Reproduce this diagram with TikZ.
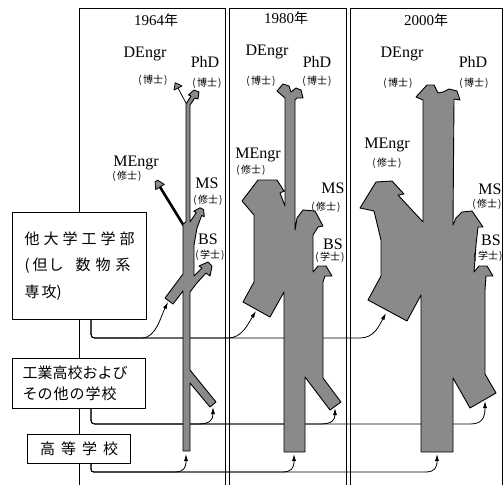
\documentclass[tikz,border=0pt]{standalone}
\usepackage{fontspec}
\setmainfont{Liberation Serif}
\newfontfamily\cjk{Noto Sans CJK JP}
\usetikzlibrary{arrows.meta,calc}
\newcommand{\gapx}{\hspace{4pt}}
\newcommand{\deglab}[1]{{\cjk\fontsize{10}{10}\selectfont(\hspace{1.2pt}#1\hspace{1.2pt})}}
\newcommand{\yrlab}[1]{#1{\cjk\fontsize{14}{14}\selectfont 年}}
\begin{document}
\begin{tikzpicture}[x=1pt,y=-1pt,
  frame/.style={line width=0.8pt},
  srcbox/.style={draw, line width=1.2pt, fill=white, inner sep=0pt},
  flow/.style={draw, line width=0.9pt, fill=black!46, line join=round},
  conn/.style={line width=0.8pt, -{Latex[length=7pt,width=4pt]}},
  lab/.style={inner sep=0pt, font=\fontsize{16}{16}\selectfont},
  sublab/.style={inner sep=0pt},
  yr/.style={inner sep=0pt, font=\fontsize{15}{15}\selectfont}]
\useasboundingbox (0,0) rectangle (504,485);

% panel frames
\draw[frame] (79,485) -- (79,8) -- (225,8) -- (225,485);
\draw[frame] (229,485) -- (229,8) -- (346,8) -- (346,485);
\draw[frame] (350,485) -- (350,8) -- (502,8) -- (502,485);

% source boxes
\node[srcbox, anchor=north west, minimum width=134pt, minimum height=107pt,
      text width=110pt, align=left, font=\cjk\fontsize{15}{26.5}\selectfont] (src1) at (12,212)
  {他\gapx 大\gapx 学\gapx 工\gapx 学\gapx 部\\(\hspace{3pt}但\hspace{1pt}し\hspace{12pt}数\hspace{5pt}物\hspace{5pt}系\\専\hspace{2pt}攻)};
\node[srcbox, anchor=north west, minimum width=133pt, minimum height=50pt,
      text width=113pt, align=left, font=\cjk\fontsize{15}{21}\selectfont] (src2) at (12,358)
  {工業高校および\\その\hspace{1pt}他\hspace{1pt}の\hspace{1pt}学\hspace{1pt}校};
\node[srcbox, anchor=north west, minimum width=103pt, minimum height=29pt,
      font=\cjk\fontsize{15}{15}\selectfont] (src3) at (27,434)
  {高\hspace{6pt}等\hspace{6pt}学\hspace{6pt}校};

% connector end points
\coordinate (s1) at ($(src1.south west)+(79,0)$);
\coordinate (s2) at ($(src2.south west)+(79,0)$);
\coordinate (s3) at ($(src3.south west)+(64,0)$);
\coordinate (t11) at (168,302);
\coordinate (t12) at (256,311);
\coordinate (t13) at (386,313);
\coordinate (t21) at (213,407);
\coordinate (t22) at (335,408);
\coordinate (t23) at (485,401);
\coordinate (t31) at (186,454);
\coordinate (t32) at (294,454);
\coordinate (t33) at (437,454);

% connectors
\draw[conn] (s1) -- (91,330) .. controls (91,338) .. (99,338) -- (142,338) .. controls (156,338) and (161,316) .. (t11);
\draw[conn] (s1) -- (91,330) .. controls (91,338) .. (99,338) -- (228,338) .. controls (242,338) and (248,324) .. (t12);
\draw[conn] (s1) -- (91,330) .. controls (91,338) .. (99,338) -- (360,338) .. controls (374,338) and (379,326) .. (t13);
\draw[conn] (s2) -- (91,416) .. controls (91,424) .. (99,424) -- (198,424) .. controls (210,424) and (213,420) .. (t21);
\draw[conn] (s2) -- (91,416) .. controls (91,424) .. (99,424) -- (320,424) .. controls (332,424) and (335,420) .. (t22);
\draw[conn] (s2) -- (91,416) .. controls (91,424) .. (99,424) -- (470,424) .. controls (482,424) and (485,418) .. (t23);
\draw[conn] (s3) -- (91,466) .. controls (91,472) .. (97,472) -- (174,472) .. controls (184,472) and (186,468) .. (t31);
\draw[conn] (s3) -- (91,466) .. controls (91,472) .. (97,472) -- (282,472) .. controls (292,472) and (294,468) .. (t32);
\draw[conn] (s3) -- (91,466) .. controls (91,472) .. (97,472) -- (425,472) .. controls (435,472) and (437,468) .. (t33);

% 1964 flow
\draw[line width=2.6pt] (184,226) -- (160,187);
\draw[line width=0.8pt] (186.5,104) -- (178,88);
\draw[flow] (183,451) -- (183,291) -- (173,304) -- (165,298) -- (183,274) -- (183,224) -- (186,222)
  -- (186,104) -- (191,96) -- (188.5,95) -- (194,90) -- (199,92) -- (198,99) -- (194.8,98) -- (190,105)
  -- (190,222) -- (196.3,212.6) -- (193.7,211.3) -- (199.9,207.8) -- (203.5,209.6) -- (204.3,216.7)
  -- (201.7,215.4) -- (197,228) -- (194,245) -- (194,276) -- (202,268) -- (199,266) -- (208,262)
  -- (212,266) -- (210,276) -- (206,273) -- (196,284) -- (190,292) -- (190,370) -- (216,402)
  -- (210,407) -- (190,383) -- (190,451) -- cycle;
\draw[flow, line width=0.8pt] (155.7,189.6) -- (155.1,181.8) -- (157.7,180.2) -- (164.3,184.4) -- cycle;
\draw[flow, line width=0.8pt] (174,90) -- (175.2,82.7) -- (182,86) -- cycle;

% 1980 flow
\draw[flow] (284,452) -- (284,292) -- (270,317) -- (243,302) -- (254,282) -- (254,215) -- (242,201)
  -- (258,180) -- (277,180) -- (284,191) -- (280,193) -- (285,206) -- (285,98) -- (277,91) -- (283,84)
  -- (289,86) -- (291,92) -- (296,88) -- (301,90) -- (303,98) -- (297,98) -- (295,100) -- (295,230)
  -- (297,218) -- (303,210) -- (315,211) -- (323,226) -- (318,227) -- (313,235) -- (313,272)
  -- (318,266) -- (326,266) -- (332,276) -- (325,276) -- (323,282) -- (323,378) -- (341,402)
  -- (330,410) -- (305,377) -- (305,452) -- cycle;

% 2000 flow
\draw[flow] (421,452) -- (421,295) -- (407,321) -- (368,300) -- (381,276) -- (381,240) -- (374,211)
  -- (360,208) -- (376,182) -- (392,181) -- (404,194) -- (398,195) -- (423,222) -- (423,100)
  -- (416,97) -- (427,85) -- (434,85) -- (438,93) -- (443,92) -- (449,89) -- (457,91) -- (460,100)
  -- (454,99) -- (453,225) -- (456,218) -- (462,212) -- (472,211) -- (483,227) -- (478,227)
  -- (476,245) -- (474,272) -- (479,266) -- (487,266) -- (493,276) -- (486,276) -- (485,290)
  -- (485,374) -- (496,393) -- (470,408) -- (453,378) -- (453,452) -- cycle;

% years
\node[yr] (y64) at (156,20) {\yrlab{1964}};
\node[yr] (y80) at (286,18) {\yrlab{1980}};
\node[yr] (y00) at (426,20) {\yrlab{2000}};

% labels 1964
\node[lab] (d64) at (145,54) {DEngr};
\node[sublab] (d64j) at (153,80) {\deglab{博士}};
\node[lab] (p64) at (205,62) {PhD};
\node[sublab] (p64j) at (207,83) {\deglab{博士}};
\node[lab] (m64) at (136,163) {MEngr};
\node[sublab] (m64j) at (127,176) {\deglab{修士}};
\node[lab] (ms64) at (207,183) {MS};
\node[sublab] (ms64j) at (208,200) {\deglab{修士}};
\node[lab] (b64) at (208,239) {BS};
\node[sublab] (b64j) at (210,255) {\deglab{学士}};

% labels 1980
\node[lab] (d80) at (267,52) {DEngr};
\node[sublab] (d80j) at (261,81) {\deglab{博士}};
\node[lab] (p80) at (317,62) {PhD};
\node[sublab] (p80j) at (317,81) {\deglab{博士}};
\node[lab] (m80) at (258,155) {MEngr};
\node[sublab] (m80j) at (251,170) {\deglab{修士}};
\node[lab] (ms80) at (333,188) {MS};
\node[sublab] (ms80j) at (326,207) {\deglab{修士}};
\node[lab] (b80) at (333,244) {BS};
\node[sublab] (b80j) at (330,257) {\deglab{学士}};

% labels 2000
\node[lab] (d00) at (402,54) {DEngr};
\node[sublab] (d00j) at (398,83) {\deglab{博士}};
\node[lab] (p00) at (473,62) {PhD};
\node[sublab] (p00j) at (474,83) {\deglab{博士}};
\node[lab] (m00) at (387,145) {MEngr};
\node[sublab] (m00j) at (387,163) {\deglab{修士}};
\node[lab] (ms00) at (490,189) {MS};
\node[sublab] (ms00j) at (487,204) {\deglab{修士}};
\node[lab] (b00) at (491,240) {BS};
\node[sublab] (b00j) at (488,256) {\deglab{学士}};
\end{tikzpicture}
\end{document}
